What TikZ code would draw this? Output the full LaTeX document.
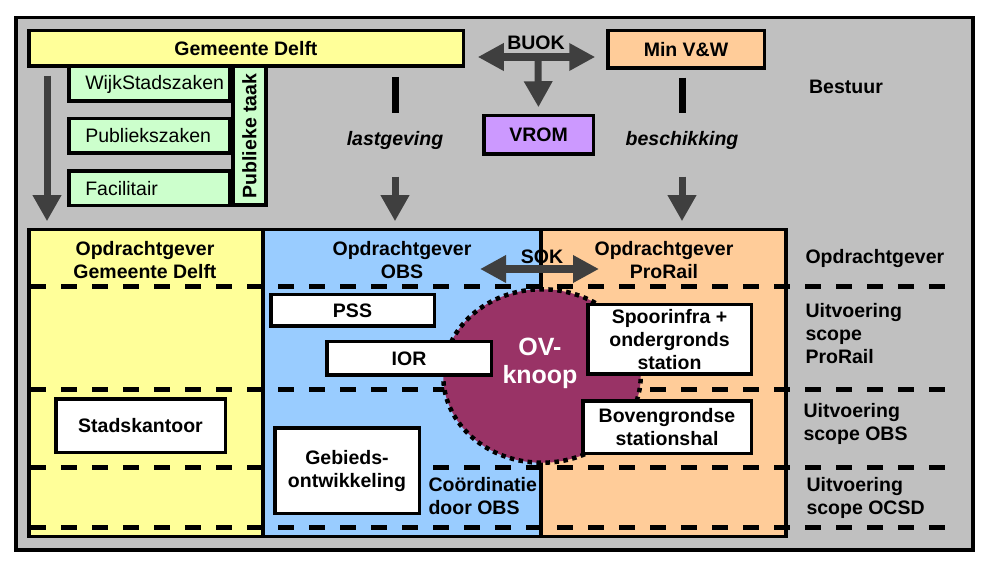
\documentclass[tikz,border=0pt]{standalone}
\usepackage{fontspec}
\setmainfont{Liberation Sans}
\usetikzlibrary{arrows.meta,shapes.geometric}
\definecolor{framegray}{HTML}{C0C0C0}
\definecolor{delftyellow}{HTML}{FFFF99}
\definecolor{taskgreen}{HTML}{CCFFCC}
\definecolor{vromviolet}{HTML}{CC99FF}
\definecolor{railorange}{HTML}{FFCC99}
\definecolor{obsblue}{HTML}{99CCFF}
\definecolor{knoopred}{HTML}{993366}
\definecolor{arrowgray}{HTML}{3F3F3F}
\begin{document}
\begin{tikzpicture}[x=1pt,y=-1pt,font=\fontsize{19.5}{23}\selectfont\bfseries,
  box/.style={draw,line width=3.5pt,inner sep=2pt,align=center},
  column/.style={draw,line width=3.5pt,minimum height=306.5pt},
  bigarrow/.style={draw=arrowgray,line width=7pt,-{Triangle[width=27pt,length=26pt]}},
  twoway/.style={draw=arrowgray,line width=8pt,{Triangle[width=26pt,length=26pt]}-{Triangle[width=26pt,length=26pt]}},
  bar/.style={line width=7pt},
  level/.style={line width=5pt,dash pattern=on 16pt off 15pt},
  side/.style={anchor=west,align=left}]
\def\sub#1#2#3{\node[box,fill=taskgreen,font=\fontsize{19.5}{23}\selectfont,minimum width=161pt,minimum height=34.5pt,inner xsep=16.25pt] (#1) at (149.5,#2) {\makebox[128.5pt][l]{#3}};}
\useasboundingbox (0,0) rectangle (989,564);
\draw[line width=3.5pt,fill=framegray] (16,17.5) rectangle (973,550);
% bestuur
\node[box,fill=delftyellow,minimum width=434.5pt,minimum height=35.5pt] (gd) at (246,48.5) {Gemeente Delft};
\node[box,fill=railorange,minimum width=156.5pt,minimum height=37.5pt] (minvw) at (686,49.5) {Min V\&W};
\node[box,fill=vromviolet,minimum width=109.5pt,minimum height=38.5pt] (vrom) at (538.5,135) {VROM};
\sub{wijk}{84}{WijkStadszaken}
\sub{publ}{136}{Publiekszaken}
\sub{faci}{188.5}{Facilitair}
\node[box,fill=taskgreen,rotate=90,minimum width=138.5pt,minimum height=33pt] (ptaak) at (249.5,136) {Publieke taak};
\node (bestuur) at (846,87) {Bestuur};
\coordinate (buok) at (538,57);
\node (buoklbl) at (536,43) {BUOK};
\draw[twoway,shorten <=12.75pt,shorten >=10.75pt] (buok -| gd.east) -- (buok -| minvw.west);
\draw[bigarrow,shorten >=6.75pt] (buok) -- (vrom.north);
\node[font=\fontsize{19.5}{23}\selectfont\bfseries\itshape] (lastg) at (395,140) {lastgeving};
\node[font=\fontsize{19.5}{23}\selectfont\bfseries\itshape] (besch) at (682,140) {beschikking};
% opdrachtgevers
\node[column,fill=delftyellow,minimum width=234.25pt] (og1) at (145.9,383) {};
\node[column,fill=obsblue,minimum width=278pt] (og2) at (402,383) {};
\node[column,fill=railorange,minimum width=245.25pt] (og3) at (663.6,383) {};
\draw[bigarrow,shorten <=7.75pt,shorten >=6.75pt] ([xshift=20pt]gd.south west) -- ([xshift=20pt]gd.south west |- og1.north);
\draw[bar,shorten <=9pt,shorten >=14pt] (lastg |- gd.south) -- (lastg);
\draw[bigarrow,shorten <=24pt,shorten >=6.75pt] (lastg) -- (lastg |- og2.north);
\draw[bar,shorten <=7.75pt,shorten >=14pt] (besch |- minvw.south) -- (besch);
\draw[bigarrow,shorten <=24pt,shorten >=6.75pt] (besch) -- (besch |- og3.north);
\node[align=center] (h1) at (145,260.5) {Opdrachtgever\\Gemeente Delft};
\node[align=center] (h2) at (402,260.5) {Opdrachtgever\\OBS};
\node[align=center] (h3) at (664,260.5) {Opdrachtgever\\ProRail};
\foreach \y in {287,389,467,527}{\draw[level] (30,\y) -- (957,\y);}
\node[ellipse,fill=knoopred,draw,line width=4.5pt,dash pattern=on 4.5pt off 4.5pt,minimum width=197.5pt,minimum height=173.5pt] (ov) at (542,376) {};
\node[box,fill=white,minimum width=163.5pt,minimum height=31.5pt] (pss) at (352.5,310.5) {PSS};
\node[box,fill=white,minimum width=164.5pt,minimum height=33.5pt] (ior) at (409,358.5) {IOR};
\node[box,fill=white,minimum width=169.5pt,minimum height=53.5pt] (stad) at (140.5,425.5) {Stadskantoor};
\node[box,fill=white,minimum width=144.5pt,minimum height=85.5pt] (gebied) at (347,470.5) {Gebieds-\\ontwikkeling};
\node[box,fill=white,minimum width=163.5pt,minimum height=69.5pt] (spoor) at (669.5,339.5) {Spoorinfra +\\ondergronds\\station};
\node[box,fill=white,minimum width=168.5pt,minimum height=52.5pt] (boven) at (667,427) {Bovengrondse\\stationshal};
\node[align=center,text=white,font=\fontsize{25}{28}\selectfont\bfseries] (ovt) at (540,363) {OV-\\knoop};
\node[side] (coord) at (425,496) {Coördinatie\\door OBS};
% niveaus
\node[side] (lvog) at (802,259) {Opdrachtgever};
\node[side] (lvpr) at (802,333.5) {Uitvoering\\scope\\ProRail};
\node[side] (lvobs) at (800,423.5) {Uitvoering\\scope OBS};
\node[side] (lvocsd) at (803,497.5) {Uitvoering\\scope OCSD};
\coordinate (sokl) at (480,269);
\coordinate (sokr) at (599,269);
\node (sok) at (542,257) {SOK};
\draw[twoway] (sokl) -- (sokr);
\end{tikzpicture}
\end{document}
